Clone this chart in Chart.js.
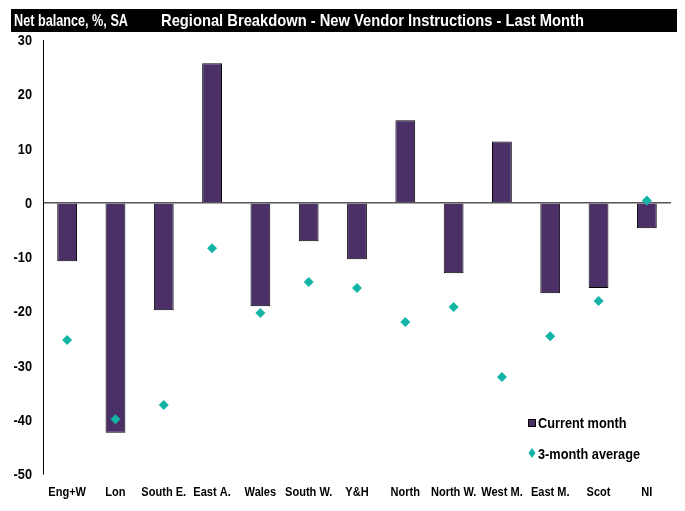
<!DOCTYPE html>
<html>
<head>
<meta charset="utf-8">
<script src="https://cdn.jsdelivr.net/npm/chart.js@4"></script>
<style>
  html, body { margin: 0; padding: 0; background: #fff; }
  #wrap { width: 685px; height: 511px; position: relative; }
</style>
</head>
<body>
<div id="wrap"><canvas id="chart"></canvas></div>
<script>
const FONT = `"Liberation Sans", Arial, sans-serif`;

// data
const regions = [`Eng+W`, `Lon`, `South E.`, `East A.`, `Wales`, `South W.`, `Y&H`,
  `North`, `North W.`, `West M.`, `East M.`, `Scot`, `NI`];
const currentMonth = [-10.8, -42.4, -19.8, 25.7, -19.1, -7.1, -10.4, 15.2, -13.0, 11.3, -16.7, -15.7, -4.7];
const threeMonthAvg = [-25.3, -39.9, -37.3, -8.4, -20.3, -14.6, -15.7, -22.0, -19.2, -32.1, -24.6, -18.1, 0.4];
const yTicks = [30, 20, 10, 0, -10, -20, -30, -40, -50];

const PURPLE = `#4b3068`;
const TEAL = `#13b3a6`;
const SQUEEZE = 0.85; // no Arial Narrow here, so squash the text by hand

// draw text squeezed horizontally; fitWidth forces an exact width instead
function narrowText(ctx, text, x, y, align, fitWidth) {
  const sx = fitWidth ? fitWidth / ctx.measureText(text).width : SQUEEZE;
  ctx.save();
  ctx.translate(x, y);
  ctx.scale(sx, 1);
  ctx.textAlign = align;
  ctx.fillText(text, 0, 0);
  ctx.restore();
}

// black header band with the two titles
const headerBand = {
  id: `headerBand`,
  beforeDraw(chart) {
    const { ctx } = chart;
    ctx.save();
    ctx.fillStyle = `#000`;
    ctx.fillRect(11, 9, 666, 23);
    ctx.fillStyle = `#fff`;
    ctx.font = `bold 17px ${FONT}`;
    ctx.textBaseline = `middle`;
    narrowText(ctx, `Net balance, %, SA`, 14, 21, `left`, 114);
    narrowText(ctx, `Regional Breakdown - New Vendor Instructions - Last Month`, 161, 21, `left`, 423);
    ctx.restore();
  },
};

// tick labels drawn from the scales, squeezed like the original narrow font
const narrowTicks = {
  id: `narrowTicks`,
  afterDraw(chart) {
    const { ctx } = chart;
    const { x, y } = chart.scales;
    ctx.save();
    ctx.fillStyle = `#000`;
    ctx.textBaseline = `middle`;
    ctx.font = `bold 13px ${FONT}`;
    x.ticks.forEach((t, i) => {
      narrowText(ctx, x.getLabelForValue(t.value), x.getPixelForTick(i), 492, `center`);
    });
    ctx.font = `bold 15px ${FONT}`;
    y.ticks.forEach((t, i) => {
      narrowText(ctx, String(t.value), 32, y.getPixelForTick(i) + 1, `right`);
    });
    ctx.restore();
  },
};

// legend sitting inside the plot, bottom right
const innerLegend = {
  id: `innerLegend`,
  afterDraw(chart) {
    const { ctx } = chart;
    const x = 532;
    ctx.save();
    ctx.font = `bold 15px ${FONT}`;
    ctx.textBaseline = `middle`;
    ctx.fillStyle = PURPLE;
    ctx.strokeStyle = `#000`;
    ctx.lineWidth = 1;
    ctx.fillRect(x - 3.5, 419.5, 7, 7);
    ctx.strokeRect(x - 3.5, 419.5, 7, 7);
    ctx.fillStyle = TEAL;
    ctx.beginPath();
    ctx.moveTo(x, 448);
    ctx.lineTo(x + 3.5, 453);
    ctx.lineTo(x, 458);
    ctx.lineTo(x - 3.5, 453);
    ctx.closePath();
    ctx.fill();
    ctx.fillStyle = `#000`;
    narrowText(ctx, chart.data.datasets[0].label, 538, 424, `left`);
    narrowText(ctx, chart.data.datasets[1].label, 538, 455, `left`);
    ctx.restore();
  },
};

new Chart(document.getElementById(`chart`), {
  type: `bar`,
  data: {
    labels: regions,
    datasets: [
      {
        label: `Current month`,
        data: currentMonth,
        backgroundColor: PURPLE,
        borderColor: `#000`,
        borderWidth: 1,
        barPercentage: 0.82,
        categoryPercentage: 0.5,
        order: 2,
      },
      {
        type: `line`,
        label: `3-month average`,
        data: threeMonthAvg,
        showLine: false,
        pointStyle: `rectRot`,
        pointRadius: 5,
        pointBackgroundColor: TEAL,
        pointBorderColor: TEAL,
        pointBorderWidth: 0,
        order: 1,
      },
    ],
  },
  options: {
    responsive: true,
    maintainAspectRatio: false,
    animation: false,
    layout: { padding: { top: 40, right: 14, left: 0, bottom: 0 } },
    plugins: { legend: { display: false }, tooltip: { enabled: false } },
    scales: {
      x: {
        grid: { display: false },
        border: { display: false },
        ticks: {
          color: `rgba(0,0,0,0)`,
          font: { family: FONT, size: 13, weight: `bold` },
          maxRotation: 0,
          autoSkip: false,
        },
        afterFit: (scale) => { scale.height = 37; },
      },
      y: {
        min: -50,
        max: 30,
        afterBuildTicks: (scale) => { scale.ticks = yTicks.map((value) => ({ value })); },
        grid: {
          drawTicks: false,
          color: (c) => (c.tick && c.tick.value === 0 ? `#555` : `rgba(0,0,0,0)`),
          lineWidth: 1.5,
        },
        border: { display: true, color: `#000`, width: 1 },
        ticks: {
          color: `rgba(0,0,0,0)`,
          font: { family: FONT, size: 15, weight: `bold` },
        },
        afterFit: (scale) => { scale.width = 43; },
      },
    },
  },
  plugins: [headerBand, narrowTicks, innerLegend],
});
</script>
</body>
</html>
